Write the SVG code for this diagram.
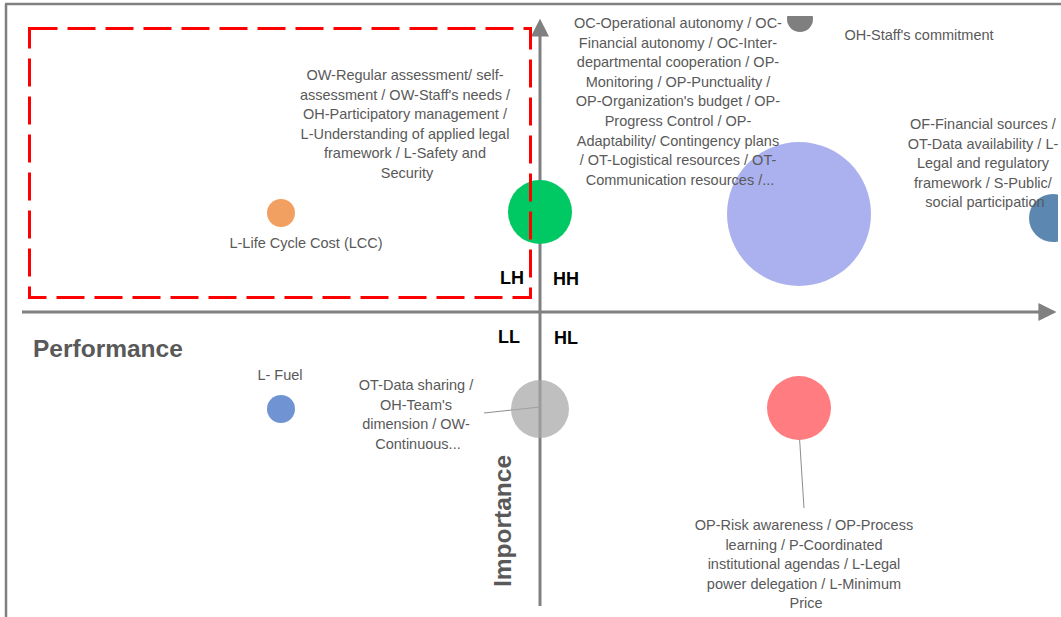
<svg xmlns="http://www.w3.org/2000/svg" width="1061" height="617" viewBox="0 0 1061 617">
  <style>
    .lbl { font-family: "Liberation Sans", Arial, sans-serif; font-size: 14.5px; fill: #595959; text-anchor: middle; }
    .quad { font-family: "Liberation Sans", Arial, sans-serif; font-size: 18px; font-weight: bold; fill: #000; text-anchor: middle; }
    .axisTitle { font-family: "Liberation Sans", Arial, sans-serif; font-size: 24.5px; font-weight: bold; fill: #595959; }
    .axis { stroke: #808080; stroke-width: 3; fill: none; }
    .leader { stroke: #8c8c8c; stroke-width: 1; }
  </style>
  <defs>
    <marker id="arrow" viewBox="0 0 10 10" refX="2" refY="5" markerWidth="6" markerHeight="6" markerUnits="strokeWidth" orient="auto">
      <path d="M0,0 L10,5 L0,10 Z" fill="#808080"/>
    </marker>
    <clipPath id="plot">
      <rect x="6" y="16" width="1052" height="601"/>
    </clipPath>
  </defs>

  <rect width="1061" height="617" fill="#ffffff"/>

  <!-- outer frame -->
  <g id="frame">
    <line x1="5" y1="4" x2="1061" y2="4" stroke="#808080" stroke-width="2.5"/>
    <line x1="6" y1="4" x2="6" y2="617" stroke="#808080" stroke-width="2.5"/>
  </g>

  <!-- axes -->
  <g id="connectors">
    <line class="axis" x1="22" y1="312" x2="1042" y2="312" marker-end="url(#arrow)"/>
    <line class="axis" x1="540" y1="606" x2="540" y2="33" marker-end="url(#arrow)"/>
    <line class="leader" x1="484" y1="413" x2="540" y2="407"/>
    <line class="leader" x1="799" y1="430" x2="804" y2="508"/>
  </g>

  <!-- bubbles -->
  <g id="bubbles" clip-path="url(#plot)">
    <g id="n-lcc"><circle cx="281" cy="213" r="14" fill="#F2A062"/></g>
    <g id="n-fuel"><circle cx="281" cy="409" r="14" fill="#6F93D3"/></g>
    <g id="n-lh"><circle cx="540" cy="212" r="32" fill="#00C862"/></g>
    <g id="n-datasharing"><circle cx="540" cy="409" r="29" fill="#A6A6A6" fill-opacity="0.72"/></g>
    <g id="n-operational"><circle cx="799" cy="214" r="72" fill="#AAB1EE"/></g>
    <g id="n-commitment"><circle cx="800" cy="19" r="13" fill="#7F7F7F"/></g>
    <g id="n-financial"><circle cx="1053" cy="218" r="24" fill="#5B87B0"/></g>
    <g id="n-risk"><circle cx="799" cy="408" r="32" fill="#FF7C80"/></g>
  </g>

  <!-- highlighted LH region -->
  <g id="lh-region">
    <rect x="29.5" y="28.5" width="501" height="269" fill="none" stroke="#FF0000" stroke-width="3" stroke-dasharray="28 10"/>
  </g>

  <!-- bubble labels -->
  <g id="labels">
    <text class="lbl">
      <tspan x="407" y="80">OW-Regular assessment/ self-</tspan>
      <tspan x="407" y="99.5">assessment / OW-Staff's needs /</tspan>
      <tspan x="407" y="119">OH-Participatory management /</tspan>
      <tspan x="407" y="138.5">L-Understanding of applied legal</tspan>
      <tspan x="407" y="158">framework / L-Safety and</tspan>
      <tspan x="407" y="177.5">Security</tspan>
    </text>
    <text class="lbl" x="306" y="248">L-Life Cycle Cost (LCC)</text>
    <text class="lbl">
      <tspan x="680" y="28">OC-Operational autonomy / OC-</tspan>
      <tspan x="680" y="47.6">Financial autonomy / OC-Inter-</tspan>
      <tspan x="680" y="67.2">departmental cooperation / OP-</tspan>
      <tspan x="680" y="86.8">Monitoring / OP-Punctuality /</tspan>
      <tspan x="680" y="106.4">OP-Organization's budget / OP-</tspan>
      <tspan x="680" y="126">Progress Control / OP-</tspan>
      <tspan x="680" y="145.6">Adaptability/ Contingency plans</tspan>
      <tspan x="680" y="165.2">/ OT-Logistical resources / OT-</tspan>
      <tspan x="680" y="184.8">Communication resources /...</tspan>
    </text>
    <text class="lbl" x="919" y="40">OH-Staff's commitment</text>
    <text class="lbl">
      <tspan x="985" y="129">OF-Financial sources /</tspan>
      <tspan x="985" y="148.5">OT-Data availability / L-</tspan>
      <tspan x="985" y="168">Legal and regulatory</tspan>
      <tspan x="985" y="187.5">framework / S-Public/</tspan>
      <tspan x="985" y="207">social participation</tspan>
    </text>
    <text class="lbl" x="280" y="380">L- Fuel</text>
    <text class="lbl">
      <tspan x="418" y="390">OT-Data sharing /</tspan>
      <tspan x="418" y="409.5">OH-Team's</tspan>
      <tspan x="418" y="429">dimension / OW-</tspan>
      <tspan x="418" y="448.5">Continuous...</tspan>
    </text>
    <text class="lbl">
      <tspan x="806" y="530">OP-Risk awareness / OP-Process</tspan>
      <tspan x="806" y="549.5">learning / P-Coordinated</tspan>
      <tspan x="806" y="569">institutional agendas / L-Legal</tspan>
      <tspan x="806" y="588.5">power delegation / L-Minimum</tspan>
      <tspan x="806" y="608">Price</tspan>
    </text>
  </g>

  <!-- quadrant names and axis titles -->
  <g id="quadrants">
    <text class="quad" x="512" y="284">LH</text>
    <text class="quad" x="566" y="285">HH</text>
    <text class="quad" x="509" y="343">LL</text>
    <text class="quad" x="566" y="344">HL</text>
  </g>
  <g id="axis-titles">
    <text class="axisTitle" x="33" y="357">Performance</text>
    <text class="axisTitle" text-anchor="middle" transform="translate(511 521) rotate(-90)">Importance</text>
  </g>
</svg>
